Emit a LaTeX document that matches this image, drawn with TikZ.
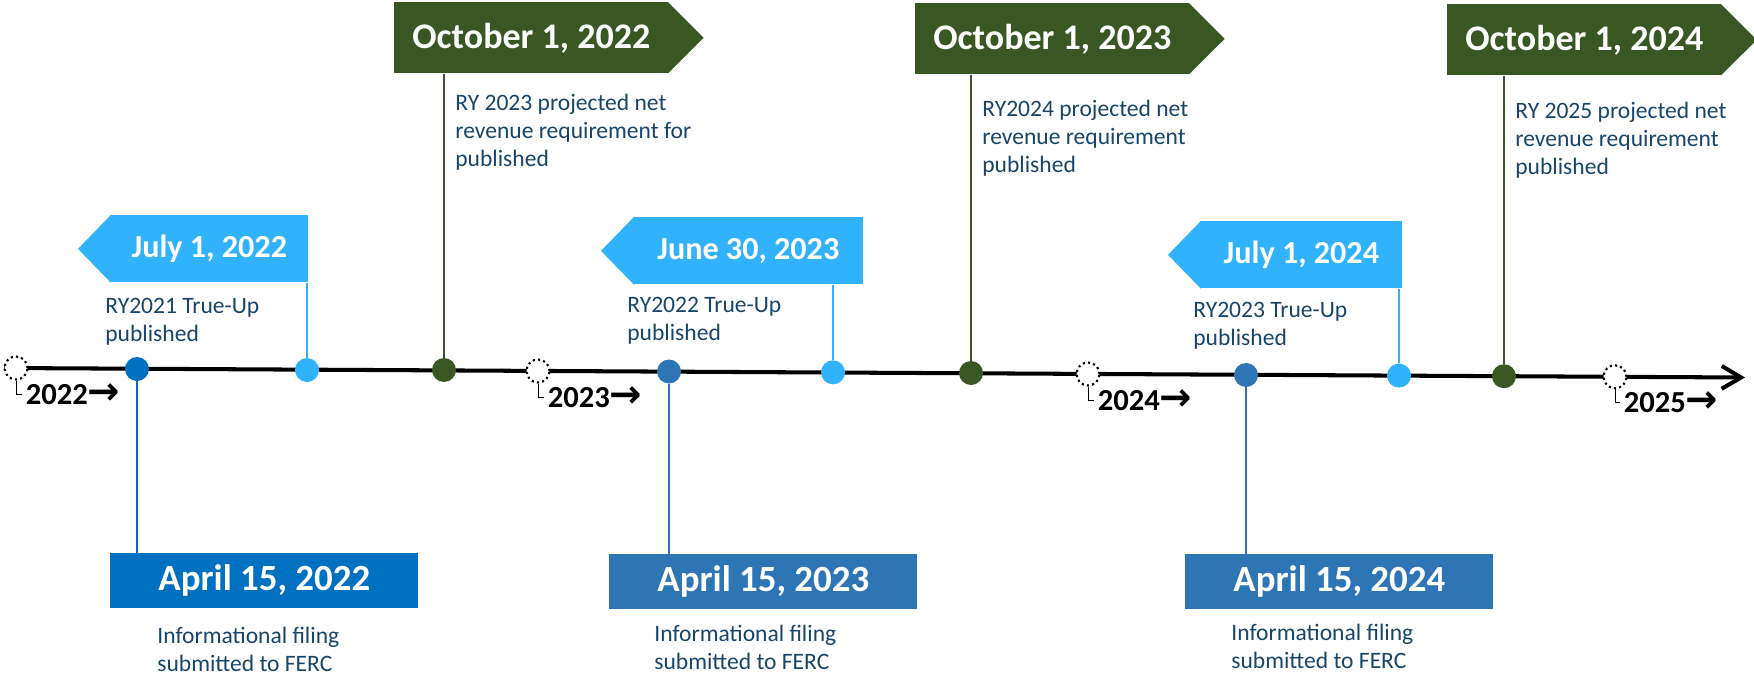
\documentclass[tikz,border=0pt]{standalone}
\usepackage{fontspec}
\setmainfont{Carlito}
\newfontfamily\arrowfont{DejaVu Sans}
\usetikzlibrary{arrows.meta}
\definecolor{octgreen}{HTML}{385723}
\definecolor{julyblue}{HTML}{30B2FC}
\definecolor{aprblue}{HTML}{0070C0}
\definecolor{steelblue}{HTML}{2E75B6}
\definecolor{desctext}{HTML}{17456B}

\begin{document}
\begin{tikzpicture}[x=0.02cm, y=-0.02cm,
  octflag/.style={fill=octgreen, text=white, anchor=north west, inner sep=0, minimum width=5.48cm, minimum height=1.42cm, font=\bfseries\fontsize{20.5}{24}\selectfont},
  julflag/.style={fill=julyblue, text=white, anchor=north west, inner sep=0, minimum height=1.34cm, font=\bfseries\fontsize{18.3}{22}\selectfont},
  aprbox/.style={text=white, anchor=north west, inner sep=0, minimum width=6.16cm, minimum height=1.1cm, font=\bfseries\fontsize{21}{25}\selectfont},
  desclabel/.style={text=desctext, anchor=west, align=left, inner sep=0, font=\fontsize{13.4}{15.9}\selectfont},
  datedot/.style={circle, fill=#1, inner sep=0, minimum size=0.48cm},
  yearmark/.style={circle, draw, dash pattern=on 1.2pt off 1.8pt, line width=1.2pt, fill=white, inner sep=0, minimum size=0.46cm},
  yearlabel/.style={anchor=west, inner sep=2pt, font=\bfseries\fontsize{17.4}{20}\selectfont},
  stemline/.style={draw=#1, line width=1.1pt}
]
\useasboundingbox (0,0) rectangle (1754,676);

\coordinate (start) at (4,368);
\coordinate (end) at (1745,377.5);
\draw[line width=2.3pt, -{Straight Barb[length=11pt, width=13pt]}] (start) -- (end);

\node[octflag] (oct22) at (394,2) {October 1, 2022};
\node[octflag] (oct23) at (915,3) {October 1, 2023};
\node[octflag] (oct24) at (1447,4) {October 1, 2024};
\fill[octgreen] ([xshift=-0.5pt]oct22.north east) -- ([xshift=0.7cm]oct22.east) -- ([xshift=-0.5pt]oct22.south east) -- cycle;
\fill[octgreen] ([xshift=-0.5pt]oct23.north east) -- ([xshift=0.7cm]oct23.east) -- ([xshift=-0.5pt]oct23.south east) -- cycle;
\fill[octgreen] ([xshift=-0.5pt]oct24.north east) -- ([xshift=0.7cm]oct24.east) -- ([xshift=-0.5pt]oct24.south east) -- cycle;

\node[julflag, minimum width=3.96cm] (jul22) at (110,215) {July 1, 2022};
\node[julflag, minimum width=4.6cm] (jun23) at (633,217) {June 30, 2023};
\node[julflag, minimum width=4.04cm] (jul24) at (1200,221) {July 1, 2024};
\fill[julyblue] ([xshift=0.5pt]jul22.north west) -- ([xshift=-0.64cm]jul22.west) -- ([xshift=0.5pt]jul22.south west) -- cycle;
\fill[julyblue] ([xshift=0.5pt]jun23.north west) -- ([xshift=-0.64cm]jun23.west) -- ([xshift=0.5pt]jun23.south west) -- cycle;
\fill[julyblue] ([xshift=0.5pt]jul24.north west) -- ([xshift=-0.64cm]jul24.west) -- ([xshift=0.5pt]jul24.south west) -- cycle;

\node[aprbox, fill=aprblue] (apr22) at (110,553) {April 15, 2022};
\node[aprbox, fill=steelblue] (apr23) at (609,554) {April 15, 2023};
\node[aprbox, fill=steelblue] (apr24) at (1185,554) {April 15, 2024};

\node[datedot=aprblue] (a22dot) at (137,369) {};
\node[datedot=julyblue] (j22dot) at (307,370) {};
\node[datedot=octgreen] (o22dot) at (444,370) {};
\node[datedot=steelblue] (a23dot) at (669,371.5) {};
\node[datedot=julyblue] (j23dot) at (833,372.3) {};
\node[datedot=octgreen] (o23dot) at (971,373) {};
\node[datedot=steelblue] (a24dot) at (1246,375) {};
\node[datedot=julyblue] (j24dot) at (1399,375.6) {};
\node[datedot=octgreen] (o24dot) at (1504,376.2) {};

\draw[stemline=octgreen] (o22dot) -- (o22dot |- oct22.south);
\draw[stemline=octgreen] (o23dot) -- (o23dot |- oct23.south);
\draw[stemline=octgreen] (o24dot) -- (o24dot |- oct24.south);
\draw[stemline=julyblue] (j22dot) -- (j22dot |- jul22.south);
\draw[stemline=julyblue] (j23dot) -- (j23dot |- jun23.south);
\draw[stemline=julyblue] (j24dot) -- (j24dot |- jul24.south);
\draw[stemline=aprblue] (a22dot) -- (a22dot |- apr22.north);
\draw[stemline=steelblue] (a23dot) -- (a23dot |- apr23.north);
\draw[stemline=steelblue] (a24dot) -- (a24dot |- apr24.north);

\node[desclabel] (oct22txt) at (455,132) {RY 2023 projected net\\revenue requirement for\\published};
\node[desclabel] (oct23txt) at (982,138) {RY2024 projected net\\revenue requirement\\published};
\node[desclabel] (oct24txt) at (1515,140) {RY 2025 projected net\\revenue requirement\\published};
\node[desclabel] (jul22txt) at (105,321.5) {RY2021 True-Up\\published};
\node[desclabel] (jun23txt) at (627,321) {RY2022 True-Up\\published};
\node[desclabel] (jul24txt) at (1193,326) {RY2023 True-Up\\published};
\node[desclabel] (apr22txt) at (157,649) {Informational filing\\submitted to FERC};
\node[desclabel] (apr23txt) at (654,647) {Informational filing\\submitted to FERC};
\node[desclabel] (apr24txt) at (1231,646) {Informational filing\\submitted to FERC};

\node[yearmark] (yr22) at (16,368) {};
\node[yearmark] (yr23) at (538,371) {};
\node[yearmark] (yr24) at (1088,374) {};
\node[yearmark] (yr25) at (1615,376.8) {};
\node[yearlabel] (yl22) at (22,394) {2022{\arrowfont\fontsize{22}{22}\selectfont →}};
\node[yearlabel] (yl23) at (544,397) {2023{\arrowfont\fontsize{22}{22}\selectfont →}};
\node[yearlabel] (yl24) at (1094,400) {2024{\arrowfont\fontsize{22}{22}\selectfont →}};
\node[yearlabel] (yl25) at (1620,402) {2025{\arrowfont\fontsize{22}{22}\selectfont →}};
\draw[thin] (yr22.south) |- (yl22.west);
\draw[thin] (yr23.south) |- (yl23.west);
\draw[thin] (yr24.south) |- (yl24.west);
\draw[thin] (yr25.south) |- (yl25.west);
\end{tikzpicture}
\end{document}
